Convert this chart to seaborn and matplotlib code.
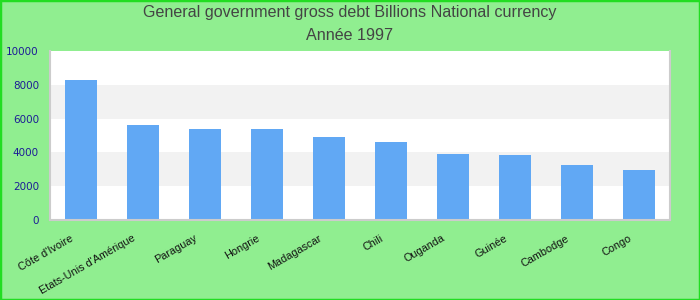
import matplotlib
matplotlib.use("Agg")
import matplotlib.pyplot as plt
import matplotlib.transforms as mtransforms
from matplotlib.patches import Rectangle
import seaborn as sns
import pandas as pd

countries = ["Côte d'Ivoire", "Etats-Unis d'Amérique", "Paraguay", "Hongrie", "Madagascar",
             "Chili", "Ouganda", "Guinée", "Cambodge", "Congo"]
debt = [8290, 5620, 5390, 5390, 4910, 4620, 3910, 3850, 3260, 2960]
yticks = [0, 2000, 4000, 6000, 8000, 10000]
title_line1 = "General government gross debt Billions National currency"
title_line2 = "Année 1997"

df = pd.DataFrame({"country": countries, "debt": debt})

sns.set_style("white")
plt.rcParams['font.family'] = ['Liberation Sans', 'DejaVu Sans']

fig = plt.figure(figsize=(7, 3), dpi=100, facecolor="#90EE90")
ax = fig.add_axes([50/700, 80/300, 620/700, 169/300])
ax.set_facecolor("white")

for lo, hi in [(2000, 4000), (6000, 8000)]:
    ax.axhspan(lo, hi, color="#f2f2f2", zorder=0, lw=0)

sns.barplot(data=df, x="country", y="debt", color="#61a8f4", width=0.52,
            saturation=1, ax=ax, zorder=2, linewidth=0, edgecolor="none")

ax.set_ylim(0, 10000)
ax.set_xlim(-0.5, len(countries) - 0.5)
ax.set_yticks(yticks)
ax.set_yticklabels([str(v) for v in yticks], fontsize=7.5, color="#1c1c96",
                   family="DejaVu Sans")
ax.tick_params(axis="y", length=0, pad=8)
ax.tick_params(axis="x", length=0, pad=9.5)
ax.set_xticks(range(len(countries)))
ax.set_xticklabels(countries, rotation=30, ha="right", va="top", fontsize=7.8,
                   color="#111111")
offset = mtransforms.ScaledTranslation(-6/100, 0, fig.dpi_scale_trans)
for lab in ax.get_xticklabels():
    lab.set_transform(lab.get_transform() + offset)

ax.set_xlabel("")
ax.set_ylabel("")
ax.grid(False)
for s in ["left", "right", "bottom"]:
    ax.spines[s].set_color("#cccccc")
    ax.spines[s].set_linewidth(1.5)
ax.spines["top"].set_visible(False)

fig.text(0.5, 1 - 13/300, title_line1, ha="center", va="center", fontsize=11.6, color="#444444")
fig.text(0.5, 1 - 35/300, title_line2, ha="center", va="center", fontsize=11.6, color="#444444")

fig.patches.append(Rectangle((0, 0), 1, 1, transform=fig.transFigure, fill=False,
                             edgecolor="#22dd22", linewidth=2.5, zorder=10))

fig.savefig("out.png", dpi=100, facecolor=fig.get_facecolor())
